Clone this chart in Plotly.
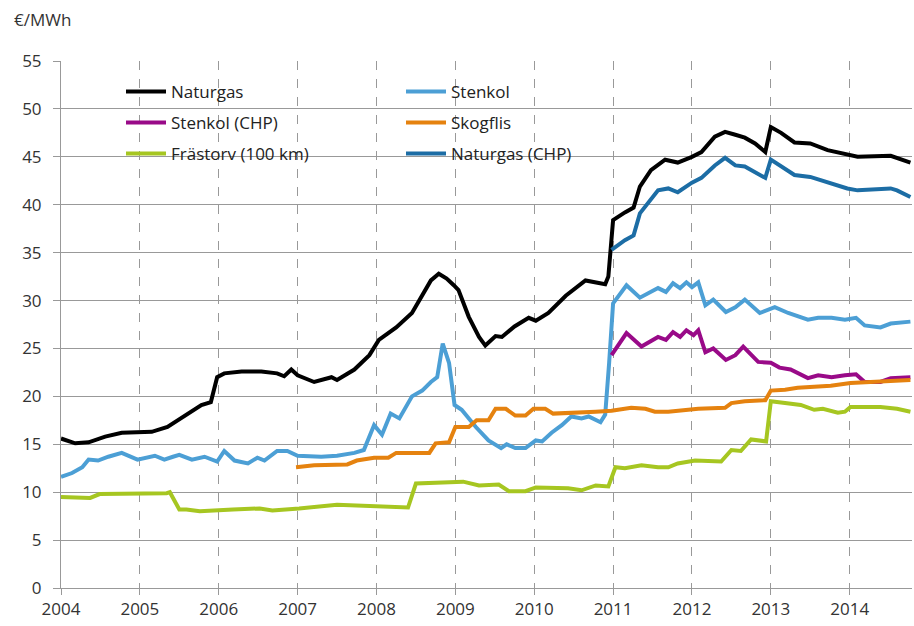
import plotly.graph_objects as go

# ---------------- data (decimal year, €/MWh) ----------------
naturgas_x = [2004.0, 2004.18, 2004.35, 2004.56, 2004.77, 2004.98, 2005.15, 2005.35, 2005.6, 2005.78,
              2005.9, 2005.98, 2006.07, 2006.29, 2006.54, 2006.74, 2006.83, 2006.92, 2007.0, 2007.21,
              2007.43, 2007.5, 2007.72, 2007.91, 2008.03, 2008.25, 2008.45, 2008.58, 2008.69, 2008.79,
              2008.89, 2008.98, 2009.04, 2009.17, 2009.3, 2009.38, 2009.51, 2009.59, 2009.75, 2009.93,
              2010.02, 2010.18, 2010.4, 2010.65, 2010.9, 2010.94, 2011.0, 2011.15, 2011.26, 2011.34,
              2011.48, 2011.66, 2011.82, 2012.0, 2012.12, 2012.29, 2012.42, 2012.55, 2012.67, 2012.8,
              2012.93, 2013.0, 2013.13, 2013.3, 2013.5, 2013.72, 2013.97, 2014.1, 2014.52, 2014.6, 2014.77]
naturgas_y = [15.6, 15.1, 15.2, 15.8, 16.2, 16.2, 16.3, 16.8, 18.2, 19.1,
              19.4, 22.0, 22.4, 22.6, 22.6, 22.4, 22.1, 22.8, 22.2, 21.5,
              22.0, 21.7, 22.8, 24.3, 25.9, 27.2, 28.7, 30.6, 32.1, 32.8,
              32.3, 31.6, 31.1, 28.3, 26.2, 25.3, 26.3, 26.2, 27.3, 28.2,
              27.9, 28.7, 30.5, 32.1, 31.7, 32.5, 38.4, 39.2, 39.7, 41.9,
              43.6, 44.7, 44.4, 45.0, 45.5, 47.1, 47.6, 47.3, 47.0, 46.4,
              45.5, 48.1, 47.5, 46.5, 46.4, 45.7, 45.2, 45.0, 45.1, 44.9, 44.4]

stenkol_x = [2004.0, 2004.14, 2004.27, 2004.35, 2004.47, 2004.6, 2004.77, 2004.97, 2005.19, 2005.31,
             2005.42, 2005.5, 2005.66, 2005.82, 2005.98, 2006.07, 2006.2, 2006.37, 2006.49, 2006.58,
             2006.74, 2006.87, 2007.0, 2007.3, 2007.5, 2007.72, 2007.84, 2007.97, 2008.07, 2008.18,
             2008.29, 2008.45, 2008.58, 2008.69, 2008.77, 2008.84, 2008.92, 2008.99, 2009.08, 2009.26,
             2009.42, 2009.58, 2009.65, 2009.76, 2009.89, 2010.02, 2010.1, 2010.22, 2010.35, 2010.47,
             2010.6, 2010.69, 2010.84, 2010.9, 2010.95, 2010.98, 2011.0, 2011.17, 2011.34, 2011.57,
             2011.67, 2011.76, 2011.85, 2011.93, 2012.0, 2012.08, 2012.17, 2012.27, 2012.43, 2012.55,
             2012.67, 2012.86, 2013.05, 2013.22, 2013.47, 2013.6, 2013.77, 2013.94, 2014.08, 2014.19,
             2014.39, 2014.52, 2014.77]
stenkol_y = [11.6, 12.0, 12.6, 13.4, 13.3, 13.7, 14.1, 13.4, 13.8, 13.4,
             13.7, 13.9, 13.4, 13.7, 13.2, 14.3, 13.3, 13.0, 13.6, 13.3,
             14.3, 14.3, 13.8, 13.7, 13.8, 14.1, 14.4, 17.0, 16.0, 18.2,
             17.7, 20.0, 20.6, 21.5, 22.0, 25.5, 23.5, 19.1, 18.6, 16.8,
             15.4, 14.6, 15.0, 14.6, 14.6, 15.4, 15.3, 16.2, 17.0, 17.9,
             17.7, 17.9, 17.3, 18.1, 23.5, 26.9, 29.7, 31.6, 30.3, 31.3,
             30.9, 31.8, 31.3, 31.9, 31.4, 31.9, 29.5, 30.1, 28.8, 29.3,
             30.1, 28.7, 29.3, 28.7, 28.0, 28.2, 28.2, 28.0, 28.2, 27.4,
             27.2, 27.6, 27.8]

stenkol_chp_x = [2010.98, 2011.17, 2011.36, 2011.57, 2011.67, 2011.76, 2011.85, 2011.93, 2012.02, 2012.08,
                 2012.17, 2012.27, 2012.43, 2012.55, 2012.65, 2012.84, 2013.0, 2013.11, 2013.25, 2013.47,
                 2013.6, 2013.77, 2013.94, 2014.08, 2014.19, 2014.39, 2014.52, 2014.77]
stenkol_chp_y = [24.3, 26.6, 25.2, 26.2, 25.9, 26.7, 26.2, 26.9, 26.4, 26.9,
                 24.6, 25.0, 23.8, 24.3, 25.2, 23.6, 23.5, 23.0, 22.8, 21.9,
                 22.2, 22.0, 22.2, 22.3, 21.5, 21.5, 21.9, 22.0]

skogflis_x = [2006.98, 2007.21, 2007.63, 2007.75, 2007.97, 2008.15, 2008.25, 2008.67, 2008.75, 2008.92,
              2009.0, 2009.17, 2009.27, 2009.42, 2009.51, 2009.64, 2009.76, 2009.89, 2009.99, 2010.14,
              2010.24, 2010.65, 2010.78, 2010.98, 2011.23, 2011.41, 2011.53, 2011.7, 2011.91, 2012.08,
              2012.42, 2012.5, 2012.67, 2012.93, 2013.0, 2013.18, 2013.34, 2013.76, 2014.01, 2014.39, 2014.77]
skogflis_y = [12.6, 12.8, 12.9, 13.3, 13.6, 13.6, 14.1, 14.1, 15.1, 15.2,
              16.8, 16.8, 17.5, 17.5, 18.7, 18.7, 18.0, 18.0, 18.7, 18.7,
              18.2, 18.3, 18.4, 18.5, 18.8, 18.7, 18.4, 18.4, 18.6, 18.7,
              18.8, 19.3, 19.5, 19.6, 20.6, 20.7, 20.9, 21.1, 21.4, 21.5, 21.7]

frastorv_x = [2004.0, 2004.37, 2004.49, 2004.91, 2005.34, 2005.38, 2005.5, 2005.59, 2005.76, 2006.18,
              2006.52, 2006.68, 2007.02, 2007.5, 2007.93, 2008.4, 2008.5, 2008.96, 2009.1, 2009.3,
              2009.55, 2009.68, 2009.89, 2010.02, 2010.43, 2010.6, 2010.78, 2010.94, 2011.03, 2011.15,
              2011.36, 2011.57, 2011.7, 2011.82, 2012.04, 2012.37, 2012.5, 2012.62, 2012.75, 2012.94,
              2013.0, 2013.18, 2013.38, 2013.55, 2013.66, 2013.85, 2013.94, 2014.01, 2014.39, 2014.6, 2014.77]
frastorv_y = [9.5, 9.4, 9.8, 9.8, 9.9, 10.0, 8.2, 8.2, 8.0, 8.2,
              8.3, 8.1, 8.3, 8.7, 8.6, 8.4, 10.9, 11.1, 11.1, 10.7,
              10.8, 10.1, 10.1, 10.5, 10.4, 10.2, 10.7, 10.6, 12.6, 12.5,
              12.8, 12.6, 12.6, 13.0, 13.3, 13.2, 14.4, 14.3, 15.5, 15.3,
              19.5, 19.3, 19.1, 18.6, 18.7, 18.3, 18.4, 18.9, 18.9, 18.7, 18.4]

naturgas_chp_x = [2010.98, 2011.15, 2011.26, 2011.34, 2011.57, 2011.7, 2011.82, 2012.0, 2012.12, 2012.29,
                  2012.42, 2012.55, 2012.67, 2012.93, 2013.0, 2013.13, 2013.3, 2013.5, 2013.72, 2013.97,
                  2014.1, 2014.52, 2014.6, 2014.77]
naturgas_chp_y = [35.3, 36.3, 36.8, 39.1, 41.5, 41.7, 41.3, 42.3, 42.8, 44.1,
                  44.9, 44.1, 44.0, 42.8, 44.7, 44.0, 43.1, 42.9, 42.3, 41.7,
                  41.5, 41.7, 41.5, 40.8]

year_ticks = list(range(2004, 2015))
y_ticks = list(range(0, 60, 5))

series = [
    ("Naturgas", naturgas_x, naturgas_y, "#000000", "legend"),
    ("Stenkol", stenkol_x, stenkol_y, "#4C9FD5", "legend"),
    ("Stenkol (CHP)", stenkol_chp_x, stenkol_chp_y, "#990A88", "legend2"),
    ("Skogflis", skogflis_x, skogflis_y, "#E5820F", "legend2"),
    ("Frästorv (100 km)", frastorv_x, frastorv_y, "#A6C621", "legend3"),
    ("Naturgas (CHP)", naturgas_chp_x, naturgas_chp_y, "#1C6DA5", "legend3"),
]

FONT = "Open Sans, Noto Sans, sans-serif"
FS = 17

fig = go.Figure()
for name, xs, ys, col, lg in series:
    fig.add_trace(go.Scatter(x=xs, y=ys, mode="lines", name=name,
                             line=dict(color=col, width=4), legend=lg))

L, R, T, B = 61, 2, 61, 38
W, H = 914, 626
pw = W - L - R
ph = H - T - B

def px2paper(px):
    return (px - L) / pw

def py2paper(py):
    return (H - B - py) / ph

leg_common = dict(orientation="h", entrywidth=225, entrywidthmode="pixels", itemwidth=40,
                  font=dict(family=FONT, size=FS, color="#222"),
                  bgcolor="rgba(0,0,0,0)", xanchor="left", yanchor="middle",
                  itemclick=False, itemdoubleclick=False, tracegroupgap=0)

fig.update_layout(
    width=W, height=H,
    margin=dict(l=L, r=R, t=T, b=B),
    paper_bgcolor="white", plot_bgcolor="white",
    font=dict(family=FONT, size=FS, color="#333"),
    legend=dict(x=px2paper(121), y=py2paper(92), **leg_common),
    legend2=dict(x=px2paper(121), y=py2paper(123), **leg_common),
    legend3=dict(x=px2paper(121), y=py2paper(154), **leg_common),
    xaxis=dict(range=[2004, 2014.79], tickvals=year_ticks, ticktext=[str(v) for v in year_ticks],
               showgrid=True, gridcolor="#999999", griddash="dash", gridwidth=1,
               showline=True, linecolor="#999999", linewidth=1,
               ticks="outside", ticklen=6, tickcolor="#999999",
               tickfont=dict(family=FONT, size=FS, color="#333"), zeroline=False),
    yaxis=dict(range=[0, 55], tickvals=y_ticks,
               showgrid=True, gridcolor="#999999", gridwidth=1,
               showline=True, linecolor="#999999", linewidth=1,
               ticks="outside", ticklen=7, tickcolor="#999999", ticklabelstandoff=8,
               tickfont=dict(family=FONT, size=FS, color="#333"), zeroline=False),
    annotations=[dict(text="€/MWh", xref="paper", yref="paper", x=(12 - L) / pw,
                      y=py2paper(19), xanchor="left", yanchor="middle", showarrow=False,
                      font=dict(family=FONT, size=FS, color="#333"))],
)

fig.write_html("out.html", config={"displayModeBar": False},
               post_script="document.body.style.margin='0';document.body.style.overflow='hidden';")
